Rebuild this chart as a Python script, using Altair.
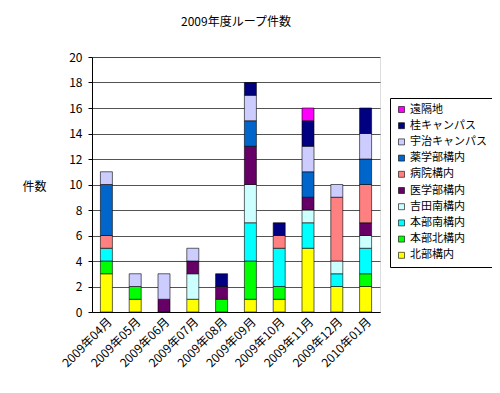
import altair as alt
import pandas as pd

months = ["2009年04月", "2009年05月", "2009年06月", "2009年07月", "2009年08月",
          "2009年09月", "2009年10月", "2009年11月", "2009年12月", "2010年01月"]
# stacking order bottom -> top
categories = ["北部構内", "本部北構内", "本部南構内", "吉田南構内", "医学部構内",
              "病院構内", "薬学部構内", "宇治キャンパス", "桂キャンパス", "遠隔地"]
colors = ["#FFFF00", "#00FF00", "#00FFFF", "#CCFFFF", "#660066",
          "#FF8080", "#0066CC", "#CCCCFF", "#000080", "#FF00FF"]

counts = {
    "北部構内":       [3, 1, 0, 1, 0, 1, 1, 5, 2, 2],
    "本部北構内":     [1, 1, 0, 0, 1, 3, 1, 0, 0, 1],
    "本部南構内":     [1, 0, 0, 0, 0, 3, 3, 2, 1, 2],
    "吉田南構内":     [0, 0, 0, 2, 0, 3, 0, 1, 1, 1],
    "医学部構内":     [0, 0, 1, 1, 1, 3, 0, 1, 0, 1],
    "病院構内":       [1, 0, 0, 0, 0, 0, 1, 0, 5, 3],
    "薬学部構内":     [4, 0, 0, 0, 0, 2, 0, 2, 0, 2],
    "宇治キャンパス": [1, 1, 2, 1, 0, 2, 0, 2, 1, 2],
    "桂キャンパス":   [0, 0, 0, 0, 1, 1, 1, 2, 0, 2],
    "遠隔地":         [0, 0, 0, 0, 0, 0, 0, 1, 0, 0],
}

rows = []
for ci, c in enumerate(categories):
    for mi, m in enumerate(months):
        v = counts[c][mi]
        if v > 0:
            rows.append({"月": m, "区分": c, "件数": v, "順": ci})
df = pd.DataFrame(rows)

font = "Noto Sans CJK JP"

chart = alt.Chart(df).mark_bar(size=12, stroke="#000000", strokeWidth=0.6).encode(
    x=alt.X("月:N", sort=months, title=None,
            axis=alt.Axis(labelAngle=-45, labelAlign="right", labelBaseline="top",
                          labelFontSize=12, labelFont=font, labelColor="#000000",
                          ticks=False, domainColor="#000000", labelPadding=4,
                          grid=False)),
    y=alt.Y("sum(件数):Q", title="件数",
            scale=alt.Scale(domain=[0, 20]),
            axis=alt.Axis(values=list(range(0, 21, 2)), labelFontSize=12, labelFont=font,
                          labelColor="#000000", titleAngle=0, titleFontSize=12,
                          titleFont=font, titleFontWeight="normal", titleColor="#000000",
                          titleX=-70, titleY=136, titleAlign="left",
                          gridColor="#000000", gridOpacity=0.85, gridWidth=0.8,
                          domainColor="#000000", tickColor="#000000", tickSize=4,
                          labelPadding=6)),
    color=alt.Color("区分:N", scale=alt.Scale(domain=categories[::-1], range=colors[::-1]),
                    legend=alt.Legend(title=None, orient="none", legendX=298, legendY=41,
                                      symbolType="square", symbolSize=36,
                                      symbolStrokeColor="#000000", symbolStrokeWidth=0.6,
                                      labelFontSize=11, labelFont=font, labelColor="#000000",
                                      strokeColor="#000000", fillColor="#FFFFFF",
                                      padding=6, rowPadding=4.2, labelOffset=3,
                                      labelLimit=200)),
    order=alt.Order("順:Q", sort="ascending"),
).properties(
    width=288, height=255,
    title=alt.TitleParams("2009年度ループ件数", font=font, fontSize=12,
                          fontWeight="normal", color="#000000", offset=22),
    autosize=alt.AutoSizeParams(type="none"),
    padding={"left": 84, "top": 49, "right": 112, "bottom": 60},
).configure_view(
    fill="#C0C0C0", stroke="#808080", strokeWidth=1
).configure(background="#FFFFFF")

chart.save("out.html", embed_options={"renderer": "svg", "actions": False})
